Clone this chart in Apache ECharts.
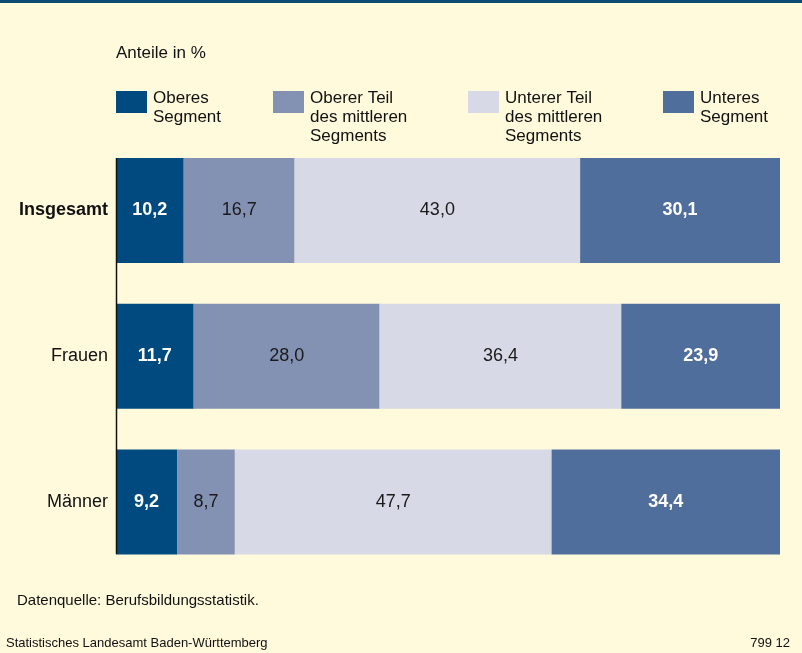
<!DOCTYPE html>
<html>
<head>
<meta charset="utf-8">
<style>
    html, body { margin: 0; padding: 0; background: #fffadc; }
    #main { width: 802px; height: 653px; }
</style>
<script src="https://cdn.jsdelivr.net/npm/echarts@6/dist/echarts.min.js"></script>
</head>
<body>
<div id="main"></div>
<script type="text/javascript">
    // Daten
    var categories = ['Insgesamt', 'Frauen', 'Männer'];
    var seriesNames = ['Oberes\nSegment', 'Oberer Teil\ndes mittleren\nSegments', 'Unterer Teil\ndes mittleren\nSegments', 'Unteres\nSegment'];
    var oberes = [10.2, 11.7, 9.2];
    var obererTeil = [16.7, 28.0, 8.7];
    var untererTeil = [43.0, 36.4, 47.7];
    var unteres = [30.1, 23.9, 34.4];

    var colors = ['#004a7f', '#8391b3', '#d7d9e6', '#506e9b'];
    var labelColors = ['#ffffff', '#1a1a1a', '#1a1a1a', '#ffffff'];
    var labelBold = ['bold', 'normal', 'normal', 'bold'];
    var legendLeft = [116, 273, 468, 663];
    var font = '"Liberation Sans", Arial, sans-serif';

    var myChart = echarts.init(document.getElementById('main'));

    var values = [oberes, obererTeil, untererTeil, unteres];
    var series = [];
    // Legende als Grafik (Symbol oben bündig mit mehrzeiligem Text)
    var graphics = [
        { type: 'rect', shape: { x: 0, y: 0, width: 802, height: 3 }, style: { fill: '#0d4a74' } },
        { type: 'line', shape: { x1: 116.5, y1: 158, x2: 116.5, y2: 554 }, style: { stroke: '#111', lineWidth: 1.5 }, z: 10 },
        { type: 'text', left: 17, top: 593, style: { text: 'Datenquelle: Berufsbildungsstatistik.', fontFamily: font, fontSize: 15, fill: '#111' } },
        { type: 'text', left: 6, top: 637, style: { text: 'Statistisches Landesamt Baden-Württemberg', fontFamily: font, fontSize: 13, fill: '#111' } },
        { type: 'text', right: 12, top: 637, style: { text: '799 12', fontFamily: font, fontSize: 13, fill: '#111' } }
    ];
    for (var i = 0; i < 4; i++) {
        series.push({
            name: seriesNames[i],
            type: 'bar',
            stack: 'all',
            barWidth: 105,
            data: values[i].slice().reverse(),
            itemStyle: { color: colors[i] },
            label: {
                show: true,
                position: 'inside',
                color: labelColors[i],
                fontWeight: labelBold[i],
                fontSize: 18,
                fontFamily: font,
                formatter: function (p) { return p.value.toFixed(1).replace('.', ','); }
            },
            emphasis: { disabled: true }
        });
        graphics.push({ type: 'rect', shape: { x: legendLeft[i], y: 91, width: 31, height: 22 }, style: { fill: colors[i] } });
        graphics.push({
            type: 'text', left: legendLeft[i] + 37, top: 89,
            style: { text: seriesNames[i], fontFamily: font, fontSize: 17, lineHeight: 19, fill: '#111' }
        });
    }

    var option = {
        backgroundColor: '#fffadc',
        animation: false,
        title: {
            text: 'Anteile in %',
            left: 116,
            top: 45,
            padding: 0,
            textStyle: { fontFamily: font, fontSize: 17, fontWeight: 'normal', color: '#111' }
        },
        grid: { left: 116, right: 22, top: 137.5, height: 437.5 },
        xAxis: { type: 'value', min: 0, max: 100, show: false },
        yAxis: {
            type: 'category',
            data: categories.slice().reverse(),
            axisLine: { show: false },
            axisTick: { show: false },
            axisLabel: {
                margin: 8,
                fontFamily: font,
                fontSize: 18,
                color: '#111',
                formatter: function (v) { return v === 'Insgesamt' ? '{b|' + v + '}' : v; },
                rich: { b: { fontWeight: 'bold', fontFamily: font, fontSize: 18, color: '#111' } }
            }
        },
        series: series,
        graphic: graphics
    };

    myChart.setOption(option);
</script>
</body>
</html>
